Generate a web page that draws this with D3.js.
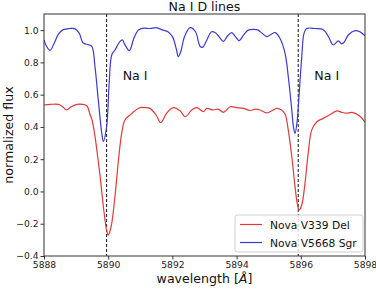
<!DOCTYPE html>
<html>
<head>
<meta charset="utf-8">
<script src="https://cdn.jsdelivr.net/npm/d3@7"></script>
<style>
  body { margin: 0; background: #fff; }
  svg { font-family: "DejaVu Sans", sans-serif; }
</style>
</head>
<body>
<div id="chart-area"></div>
<script>
// Na I D lines: two novae spectra
var waveV5668 = [5888.00, 5888.08, 5888.19, 5888.32, 5888.45, 5888.60, 5888.80, 5888.97, 5889.10, 5889.22,
  5889.38, 5889.49, 5889.59, 5889.69, 5889.80, 5889.85, 5889.95, 5890.03, 5890.11, 5890.21,
  5890.37, 5890.44, 5890.52, 5890.66, 5890.80, 5890.94, 5891.10, 5891.30, 5891.50, 5891.70,
  5891.86, 5892.00, 5892.13, 5892.18, 5892.25, 5892.38, 5892.55, 5892.72, 5892.86, 5892.94,
  5893.05, 5893.22, 5893.33, 5893.45, 5893.59, 5893.72, 5893.85, 5893.96, 5894.08, 5894.22,
  5894.36, 5894.55, 5894.67, 5894.80, 5894.94, 5895.08, 5895.20, 5895.35, 5895.51, 5895.61,
  5895.72, 5895.77, 5895.82, 5895.89, 5895.93, 5896.03, 5896.10, 5896.18, 5896.45, 5896.70,
  5896.86, 5897.01, 5897.17, 5897.27, 5897.35, 5897.48, 5897.69, 5897.84, 5898.00];
var fluxV5668 = [0.94, 0.90, 0.875, 0.92, 0.975, 1.003, 1.01, 1.008, 0.98, 0.92,
  0.91, 0.90, 0.77, 0.57, 0.36, 0.31, 0.40, 0.67, 0.846, 0.877,
  0.93, 0.94, 0.91, 0.873, 0.95, 1.0, 1.012, 1.01, 1.015, 1.0,
  0.99, 0.96, 0.877, 0.835, 0.86, 0.96, 1.015, 0.99, 0.90, 0.893,
  0.93, 0.99, 0.985, 0.96, 0.93, 0.965, 0.985, 0.96, 0.935, 0.97,
  1.0, 1.005, 1.0, 0.98, 0.96, 0.975, 0.985, 0.95, 0.856, 0.711,
  0.505, 0.40, 0.36, 0.443, 0.55, 0.835, 0.98, 1.01, 1.01, 1.003,
  0.96, 0.908, 0.934, 0.915, 0.925, 0.97, 0.997, 0.99, 0.965];

var waveV339 = [5888.00, 5888.20, 5888.45, 5888.58, 5888.70, 5888.85, 5889.03, 5889.20, 5889.34, 5889.43,
  5889.50, 5889.59, 5889.67, 5889.75, 5889.85, 5889.95, 5890.00, 5890.05, 5890.11, 5890.21,
  5890.32, 5890.42, 5890.52, 5890.68, 5890.83, 5890.99, 5891.15, 5891.30, 5891.49, 5891.64,
  5891.82, 5892.03, 5892.24, 5892.40, 5892.60, 5892.76, 5892.97, 5893.07, 5893.27, 5893.43,
  5893.59, 5893.80, 5894.00, 5894.21, 5894.42, 5894.60, 5894.73, 5894.94, 5895.10, 5895.25,
  5895.40, 5895.51, 5895.61, 5895.72, 5895.82, 5895.89, 5895.95, 5896.03, 5896.13, 5896.23,
  5896.34, 5896.50, 5896.70, 5896.90, 5897.12, 5897.28, 5897.43, 5897.60, 5897.85, 5898.00];
var fluxV339 = [0.536, 0.54, 0.54, 0.525, 0.505, 0.525, 0.54, 0.54, 0.53, 0.48,
  0.44, 0.34, 0.22, 0.09, -0.095, -0.24, -0.27, -0.25, -0.198, -0.033,
  0.195, 0.36, 0.443, 0.474, 0.50, 0.52, 0.52, 0.515, 0.474, 0.426,
  0.485, 0.52, 0.50, 0.463, 0.505, 0.52, 0.495, 0.515, 0.505, 0.51,
  0.49, 0.525, 0.52, 0.515, 0.502, 0.51, 0.505, 0.487, 0.50, 0.515,
  0.505, 0.48, 0.38, 0.215, 0.03, -0.074, -0.115, -0.084, 0.05, 0.236,
  0.38, 0.432, 0.453, 0.475, 0.50, 0.49, 0.485, 0.49, 0.465, 0.43];

var naLines = [5889.95, 5895.92];
var naLabels = [{ w: 5890.45, t: "Na I" }, { w: 5896.42, t: "Na I" }];
var xTicks = [5888, 5890, 5892, 5894, 5896, 5898];
var yTicks = [-0.4, -0.2, 0.0, 0.2, 0.4, 0.6, 0.8, 1.0];
var seriesNames = ["Nova V339 Del", "Nova V5668 Sgr"];
var seriesColors = ["#e03a3a", "#3a3ad0"];

var width = 376, height = 290;
var margin = { top: 14, right: 11, bottom: 34, left: 44 };
var plotW = width - margin.left - margin.right;
var plotH = height - margin.top - margin.bottom;

var svg = d3.select("#chart-area")
  .append("svg")
  .attr("width", width)
  .attr("height", height);

var x = d3.scaleLinear().domain([5888, 5898]).range([margin.left, margin.left + plotW]);
var y = d3.scaleLinear().domain([-0.4, 1.1]).range([margin.top + plotH, margin.top]);

svg.append("clipPath").attr("id", "clip")
  .append("rect")
  .attr("x", margin.left).attr("y", margin.top)
  .attr("width", plotW).attr("height", plotH);

var plot = svg.append("g").attr("clip-path", "url(#clip)");

// dashed rest wavelengths
plot.selectAll(".naline").data(naLines).enter().append("line")
  .attr("x1", d => x(d)).attr("x2", d => x(d))
  .attr("y1", margin.top).attr("y2", margin.top + plotH)
  .attr("stroke", "#111")
  .attr("stroke-width", 1)
  .attr("stroke-dasharray", "3,2");

var line = d3.line()
  .x(d => x(d[0]))
  .y(d => y(d[1]))
  .curve(d3.curveCatmullRom.alpha(0.5));

var redData = waveV339.map((w, i) => [w, fluxV339[i]]);
var blueData = waveV5668.map((w, i) => [w, fluxV5668[i]]);

plot.append("path").datum(redData)
  .attr("d", line).attr("fill", "none")
  .attr("stroke", seriesColors[0]).attr("stroke-width", 1.2);

plot.append("path").datum(blueData)
  .attr("d", line).attr("fill", "none")
  .attr("stroke", seriesColors[1]).attr("stroke-width", 1.2);

// axes
var xAxisG = svg.append("g")
  .attr("transform", "translate(0," + (margin.top + plotH) + ")")
  .call(d3.axisBottom(x).tickValues(xTicks).tickSize(3.5).tickPadding(2).tickFormat(d3.format("d")));

var yAxisG = svg.append("g")
  .attr("transform", "translate(" + margin.left + ",0)")
  .call(d3.axisLeft(y).tickValues(yTicks).tickSize(3.5).tickPadding(2)
    .tickFormat(d => d3.format(".1f")(d).replace("-", "\u2212")));

[xAxisG, yAxisG].forEach(g => {
  g.select(".domain").remove();
  g.selectAll(".tick line").attr("stroke", "#333");
  g.selectAll("text").attr("fill", "#222").style("font-size", "9.2px")
    .style("font-family", "DejaVu Sans, sans-serif");
});

// frame
svg.append("rect")
  .attr("x", margin.left).attr("y", margin.top)
  .attr("width", plotW).attr("height", plotH)
  .attr("fill", "none").attr("stroke", "#333").attr("stroke-width", 1);

// annotations
svg.selectAll(".nalabel").data(naLabels).enter().append("text")
  .attr("x", d => x(d.w)).attr("y", 80)
  .attr("font-size", "12.6px").attr("fill", "#111")
  .text(d => d.t);

svg.append("text")
  .attr("x", margin.left + plotW / 2).attr("y", 10.5)
  .attr("text-anchor", "middle")
  .attr("font-size", "12.6px").attr("fill", "#111")
  .text("Na I D lines");

var xLabel = svg.append("text")
  .attr("x", margin.left + plotW / 2).attr("y", 283)
  .attr("text-anchor", "middle")
  .attr("font-size", "12.6px").attr("fill", "#111");
xLabel.append("tspan").text("wavelength [");
xLabel.append("tspan").attr("font-style", "italic").text("\u00C5");
xLabel.append("tspan").text("]");

svg.append("text")
  .attr("transform", "translate(13," + (margin.top + plotH / 2) + ") rotate(-90)")
  .attr("text-anchor", "middle")
  .attr("font-size", "12.6px").attr("fill", "#111")
  .text("normalized flux");

// legend
var legend = svg.append("g").attr("transform", "translate(235,215)");
legend.append("rect")
  .attr("width", 128).attr("height", 37)
  .attr("rx", 2.5)
  .attr("fill", "#fff").attr("fill-opacity", 0.8)
  .attr("stroke", "#d0d0d0").attr("stroke-width", 1);

var items = legend.selectAll(".item").data(seriesNames).enter().append("g")
  .attr("transform", (d, i) => "translate(0," + (9.5 + i * 18) + ")");
items.append("line")
  .attr("x1", 5).attr("x2", 27)
  .attr("stroke", (d, i) => seriesColors[i]).attr("stroke-width", 1.2);
items.append("text")
  .attr("x", 35).attr("y", 4)
  .attr("font-size", "10.7px").attr("fill", "#111")
  .text(d => d);
</script>
</body>
</html>
